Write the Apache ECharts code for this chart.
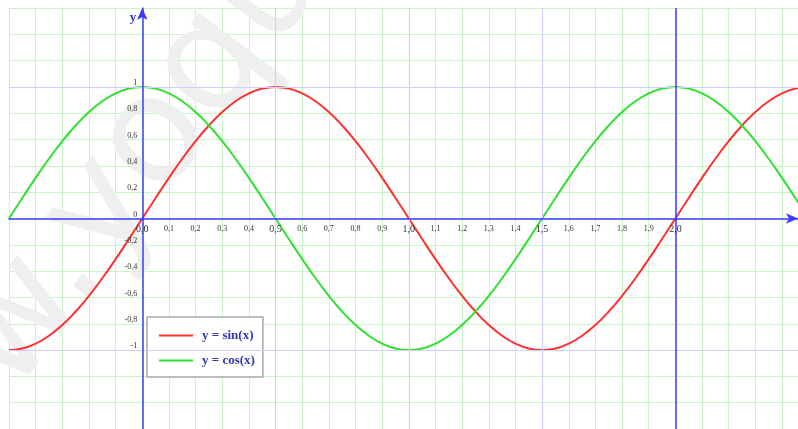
<!DOCTYPE html>
<html>
<head>
<meta charset="utf-8">
<script src="https://cdn.jsdelivr.net/npm/echarts@6/dist/echarts.min.js"></script>
<style>
    html, body { margin: 0; padding: 0; background: #fff; }
    #chartDiv { width: 798px; height: 429px; }
</style>
</head>
<body>
<div id="chartDiv"></div>
<script>
// x en unidades de pi, paso 0,05
var xValues = [-0.5, -0.45, -0.4, -0.35, -0.3, -0.25, -0.2, -0.15, -0.1, -0.05,
    0, 0.05, 0.1, 0.15, 0.2, 0.25, 0.3, 0.35, 0.4, 0.45,
    0.5, 0.55, 0.6, 0.65, 0.7, 0.75, 0.8, 0.85, 0.9, 0.95,
    1.0, 1.05, 1.1, 1.15, 1.2, 1.25, 1.3, 1.35, 1.4, 1.45,
    1.5, 1.55, 1.6, 1.65, 1.7, 1.75, 1.8, 1.85, 1.9, 1.95,
    2.0, 2.05, 2.1, 2.15, 2.2, 2.25, 2.3, 2.35, 2.4, 2.45, 2.5];
var sinValues = [-1, -0.988, -0.951, -0.891, -0.809, -0.707, -0.588, -0.454, -0.309, -0.156,
    0, 0.156, 0.309, 0.454, 0.588, 0.707, 0.809, 0.891, 0.951, 0.988,
    1, 0.988, 0.951, 0.891, 0.809, 0.707, 0.588, 0.454, 0.309, 0.156,
    0, -0.156, -0.309, -0.454, -0.588, -0.707, -0.809, -0.891, -0.951, -0.988,
    -1, -0.988, -0.951, -0.891, -0.809, -0.707, -0.588, -0.454, -0.309, -0.156,
    0, 0.156, 0.309, 0.454, 0.588, 0.707, 0.809, 0.891, 0.951, 0.988, 1];
var cosValues = [0, 0.156, 0.309, 0.454, 0.588, 0.707, 0.809, 0.891, 0.951, 0.988,
    1, 0.988, 0.951, 0.891, 0.809, 0.707, 0.588, 0.454, 0.309, 0.156,
    0, -0.156, -0.309, -0.454, -0.588, -0.707, -0.809, -0.891, -0.951, -0.988,
    -1, -0.988, -0.951, -0.891, -0.809, -0.707, -0.588, -0.454, -0.309, -0.156,
    0, 0.156, 0.309, 0.454, 0.588, 0.707, 0.809, 0.891, 0.951, 0.988,
    1, 0.988, 0.951, 0.891, 0.809, 0.707, 0.588, 0.454, 0.309, 0.156, 0];
var seriesNames = ['y = sin(x)', 'y = cos(x)'];
var majorX = [0.5, 1.0, 1.5];
var majorY = [1, -1];
var xMin = -0.5, xMax = 2.46, yMin = -1.6, yMax = 1.6;

// tamaño del area de dibujo
var gridLeft = 9, gridTop = 8, plotW = 798 - gridLeft, plotH = 429 - gridTop;

function pairs(ys) {
    return xValues.map(function (x, i) {
        return [x, ys[i]];
    });
}
function fmtX(v) {
    var r = Math.round(v * 10) / 10;
    if (r < 0 || r > 2) return '';
    var s = r.toFixed(1).replace('.', ',');
    if (Math.round(r * 10) % 5 == 0) return '{b|' + s + '}';
    return s;
}
function fmtY(v) {
    var r = Math.round(v * 10) / 10;
    if (r < -1 || r > 1) return '';
    if (r == Math.round(r)) return String(r);
    return r.toFixed(1).replace('.', ',');
}

var myChart = echarts.init(document.getElementById('chartDiv'));
myChart.setOption({
    animation: false,
    grid: { left: gridLeft, right: 0, top: gridTop, bottom: 0, containLabel: false, outerBoundsMode: 'none' },
    graphic: [{
        type: 'text',
        x: -226,
        y: 524,
        rotation: 0.925,
        z: 1,
        silent: true,
        style: {
            text: 'www.yoquieroaprobar.es',
            font: '150px "DejaVu Sans"',
            fill: '#efefef'
        }
    }],
    legend: {
        left: 147,
        top: 317,
        orient: 'vertical',
        data: seriesNames,
        icon: 'rect',
        itemWidth: 34,
        itemHeight: 2,
        itemGap: 12,
        padding: [12, 8, 10, 12],
        backgroundColor: '#fff',
        borderColor: '#a8a8a8',
        borderWidth: 1.5,
        textStyle: {
            color: '#3535b5',
            fontFamily: 'Liberation Serif',
            fontWeight: 'bold',
            fontSize: 13,
            padding: [0, 0, 0, 4]
        }
    },
    xAxis: [{
        type: 'value', min: xMin, max: xMax, interval: 0.1, z: 0, position: 'bottom',
        axisLine: { show: false }, axisTick: { show: false }, axisLabel: { show: false },
        splitLine: { lineStyle: { color: '#c6f5c6', width: 1 } }
    }, {
        type: 'value', min: xMin, max: xMax, interval: 0.1, z: 5, position: 'bottom',
        offset: -plotH * (0 - yMin) / (yMax - yMin),
        axisLine: {
            onZero: false,
            symbol: ['none', 'arrow'], symbolSize: [8, 12],
            lineStyle: { color: '#3b3bff', width: 1.5 }
        },
        axisTick: { show: false },
        splitLine: { show: false },
        axisLabel: {
            margin: 6,
            color: '#333',
            fontFamily: 'Liberation Serif',
            fontSize: 8,
            formatter: fmtX,
            rich: { b: { fontSize: 10, color: '#333', fontFamily: 'Liberation Serif' } }
        }
    }],
    yAxis: [{
        type: 'value', min: yMin, max: yMax, interval: 0.2, z: 0, position: 'left',
        axisLine: { show: false }, axisTick: { show: false }, axisLabel: { show: false },
        splitLine: { lineStyle: { color: '#c6f5c6', width: 1 } }
    }, {
        type: 'value', min: yMin, max: yMax, interval: 0.2, z: 5, position: 'left',
        offset: -plotW * (0 - xMin) / (xMax - xMin),
        name: 'y',
        nameLocation: 'end',
        nameGap: -16,
        nameTextStyle: {
            color: '#3535b5', fontFamily: 'Liberation Serif', fontWeight: 'bold',
            fontSize: 13, align: 'right', padding: [0, 6, 0, 0]
        },
        axisLine: {
            onZero: false,
            symbol: ['none', 'arrow'], symbolSize: [8, 12],
            lineStyle: { color: '#3b3bff', width: 1.5 }
        },
        axisTick: { show: false },
        splitLine: { show: false },
        axisLabel: {
            margin: 5,
            color: '#333',
            fontFamily: 'Liberation Serif',
            fontSize: 8,
            verticalAlign: 'bottom',
            formatter: fmtY
        }
    }],
    series: [
        {
            // lineas guia azul claro (debajo de la marca de agua)
            type: 'line',
            z: 0,
            data: [],
            silent: true,
            markLine: {
                symbol: 'none',
                silent: true,
                label: { show: false },
                lineStyle: { color: '#cfcfff', width: 1.2, type: 'solid' },
                data: majorX.map(function (v) { return { xAxis: v }; })
                    .concat(majorY.map(function (v) { return { yAxis: v }; }))
            }
        },
        {
            name: seriesNames[0],
            type: 'line',
            z: 3,
            smooth: true,
            showSymbol: false,
            itemStyle: { color: '#ff3030' },
            lineStyle: { color: '#ff3030', width: 2 },
            data: pairs(sinValues),
            markLine: {
                symbol: 'none',
                silent: true,
                label: { show: false },
                lineStyle: { color: '#3b3bff', width: 1.5, type: 'solid' },
                data: [{ xAxis: 2.0 }]
            }
        },
        {
            name: seriesNames[1],
            type: 'line',
            z: 3,
            smooth: true,
            showSymbol: false,
            itemStyle: { color: '#30e030' },
            lineStyle: { color: '#30e030', width: 2 },
            data: pairs(cosValues)
        }
    ]
});
</script>
</body>
</html>
